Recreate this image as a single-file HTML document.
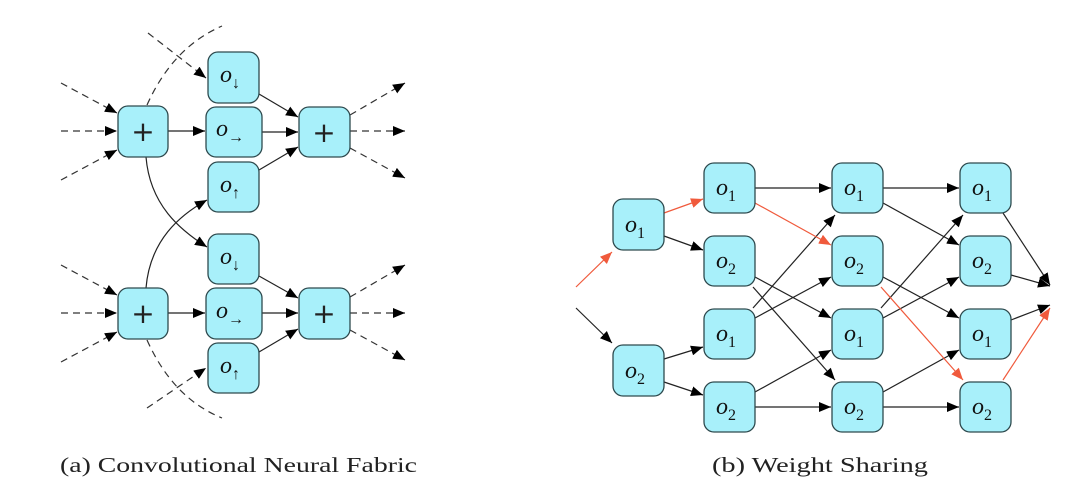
<!DOCTYPE html>
<html><head><meta charset="utf-8"><style>
html,body{margin:0;padding:0;background:#fff;width:1080px;height:495px;overflow:hidden}
svg{display:block}
.b{fill:#a8f0fa;stroke:#2e4a4e;stroke-width:1.3}
.t{font-family:"Liberation Serif",serif;font-style:italic;font-size:24px;fill:#111}
.s{font-size:16px;font-style:normal}
.p{font-family:"DejaVu Sans",sans-serif;font-size:28px;fill:#222}
.e{stroke:#222;stroke-width:1.2;fill:none}
.d{stroke:#333;stroke-width:1.2;fill:none;stroke-dasharray:7,5}
.r{stroke:#f05a3c;stroke-width:1.2;fill:none}
.c{font-family:"Liberation Serif",serif;font-size:21px;fill:#222}
</style></head><body>
<svg width="1080" height="495" viewBox="0 0 1080 495" xmlns="http://www.w3.org/2000/svg">
<defs>
<marker id="a" viewBox="0 0 12 10" refX="12" refY="5" markerWidth="12" markerHeight="10" markerUnits="userSpaceOnUse" orient="auto"><path d="M0,0 L12,5 L0,10 Z" fill="#000"/></marker>
<marker id="ar" viewBox="0 0 12 10" refX="12" refY="5" markerWidth="12" markerHeight="10" markerUnits="userSpaceOnUse" orient="auto"><path d="M0,0 L12,5 L0,10 Z" fill="#f05a3c"/></marker>
</defs>

<!-- LEFT PANEL edges -->
<g marker-end="url(#a)">
<line class="d" x1="61" y1="83" x2="117" y2="113"/>
<line class="d" x1="61" y1="131" x2="117" y2="131"/>
<line class="d" x1="61" y1="180" x2="117" y2="150"/>
<line class="d" x1="350" y1="115" x2="405" y2="83"/>
<line class="d" x1="350" y1="131" x2="405" y2="131"/>
<line class="d" x1="350" y1="148" x2="405" y2="178"/>
<line class="d" x1="61" y1="265" x2="117" y2="295"/>
<line class="d" x1="61" y1="313" x2="117" y2="313"/>
<line class="d" x1="61" y1="362" x2="117" y2="332"/>
<line class="d" x1="350" y1="297" x2="405" y2="265"/>
<line class="d" x1="350" y1="313" x2="405" y2="313"/>
<line class="d" x1="350" y1="330" x2="405" y2="360"/>
<line class="d" x1="148" y1="33" x2="206" y2="78"/>
<line class="d" x1="147" y1="408" x2="206" y2="368"/>
<line class="e" x1="168" y1="131" x2="205" y2="131"/>
<line class="e" x1="262" y1="132" x2="298" y2="132"/>
<line class="e" x1="259" y1="94" x2="298" y2="117"/>
<line class="e" x1="259" y1="170" x2="298" y2="147"/>
<line class="e" x1="168" y1="313" x2="205" y2="313"/>
<line class="e" x1="262" y1="313" x2="298" y2="313"/>
<line class="e" x1="259" y1="276" x2="298" y2="298"/>
<line class="e" x1="259" y1="352" x2="298" y2="329"/>
<path class="e" d="M146,157 C150,205 180,230 207,247"/>
<path class="e" d="M146,288 C150,240 180,215 207,200"/>
</g>
<path class="d" d="M147,105 C165,65 190,40 222,26"/>
<path class="d" d="M147,340 C165,380 190,405 222,418"/>

<!-- LEFT boxes -->
<rect class="b" x="118" y="106" width="50" height="51" rx="10"/>
<text class="p" x="143" y="141" text-anchor="middle">+</text>
<rect class="b" x="299" y="107" width="51" height="50" rx="10"/>
<text class="p" x="324" y="142" text-anchor="middle">+</text>
<rect class="b" x="118" y="288" width="50" height="51" rx="10"/>
<text class="p" x="143" y="323" text-anchor="middle">+</text>
<rect class="b" x="299" y="288" width="51" height="51" rx="10"/>
<text class="p" x="324" y="323" text-anchor="middle">+</text>

<rect class="b" x="208" y="52" width="51" height="51" rx="10"/>
<text class="t" x="220" y="82">o<tspan class="s" dy="6">↓</tspan></text>
<rect class="b" x="206" y="107" width="56" height="50" rx="10"/>
<text class="t" x="216" y="136">o<tspan class="s" dy="6">→</tspan></text>
<rect class="b" x="208" y="162" width="51" height="50" rx="10"/>
<text class="t" x="220" y="192">o<tspan class="s" dy="6">↑</tspan></text>
<rect class="b" x="208" y="234" width="51" height="50" rx="10"/>
<text class="t" x="220" y="264">o<tspan class="s" dy="6">↓</tspan></text>
<rect class="b" x="206" y="288" width="56" height="51" rx="10"/>
<text class="t" x="216" y="318">o<tspan class="s" dy="6">→</tspan></text>
<rect class="b" x="208" y="343" width="51" height="50" rx="10"/>
<text class="t" x="220" y="373">o<tspan class="s" dy="6">↑</tspan></text>

<!-- RIGHT PANEL edges -->
<g marker-end="url(#a)">
<line class="e" x1="576" y1="308" x2="612" y2="343"/>
<line class="e" x1="664" y1="236" x2="703" y2="250"/>
<line class="e" x1="664" y1="359" x2="703" y2="347"/>
<line class="e" x1="664" y1="382" x2="703" y2="395"/>
<!-- col1 -> col2 -->
<line class="e" x1="755" y1="188" x2="831" y2="188"/>
<line class="e" x1="755" y1="277" x2="831" y2="318"/>
<line class="e" x1="753" y1="287" x2="835" y2="380"/>
<line class="e" x1="753" y1="308" x2="835" y2="215"/>
<line class="e" x1="755" y1="318" x2="831" y2="277"/>
<line class="e" x1="755" y1="392" x2="831" y2="350"/>
<line class="e" x1="755" y1="407" x2="831" y2="407"/>
<!-- col2 -> col3 -->
<line class="e" x1="883" y1="188" x2="959" y2="188"/>
<line class="e" x1="883" y1="203" x2="959" y2="245"/>
<line class="e" x1="883" y1="277" x2="959" y2="318"/>
<line class="e" x1="881" y1="308" x2="963" y2="215"/>
<line class="e" x1="883" y1="318" x2="959" y2="277"/>
<line class="e" x1="883" y1="392" x2="959" y2="350"/>
<line class="e" x1="883" y1="407" x2="959" y2="407"/>
<!-- out -->
<line class="e" x1="1003" y1="213" x2="1050" y2="285"/>
<line class="e" x1="1011" y1="275" x2="1050" y2="286"/>
<line class="e" x1="1011" y1="320" x2="1050" y2="305"/>
</g>
<g marker-end="url(#ar)">
<line class="r" x1="576" y1="287" x2="612" y2="252"/>
<line class="r" x1="664" y1="213" x2="703" y2="199"/>
<line class="r" x1="755" y1="203" x2="831" y2="245"/>
<line class="r" x1="881" y1="287" x2="963" y2="380"/>
<line class="r" x1="1003" y1="380" x2="1050" y2="308"/>
</g>

<!-- RIGHT boxes -->
<g>
<rect class="b" x="613" y="199" width="51" height="51" rx="10"/>
<text class="t" x="625" y="232">o<tspan class="s" dy="6">1</tspan></text>
<rect class="b" x="613" y="345" width="51" height="51" rx="10"/>
<text class="t" x="625" y="378">o<tspan class="s" dy="6">2</tspan></text>

<rect class="b" x="704" y="163" width="51" height="50" rx="10"/>
<text class="t" x="716" y="195">o<tspan class="s" dy="6">1</tspan></text>
<rect class="b" x="704" y="236" width="51" height="50" rx="10"/>
<text class="t" x="716" y="268">o<tspan class="s" dy="6">2</tspan></text>
<rect class="b" x="704" y="309" width="51" height="50" rx="10"/>
<text class="t" x="716" y="341">o<tspan class="s" dy="6">1</tspan></text>
<rect class="b" x="704" y="382" width="51" height="50" rx="10"/>
<text class="t" x="716" y="414">o<tspan class="s" dy="6">2</tspan></text>

<rect class="b" x="832" y="163" width="51" height="50" rx="10"/>
<text class="t" x="844" y="195">o<tspan class="s" dy="6">1</tspan></text>
<rect class="b" x="832" y="236" width="51" height="50" rx="10"/>
<text class="t" x="844" y="268">o<tspan class="s" dy="6">2</tspan></text>
<rect class="b" x="832" y="309" width="51" height="50" rx="10"/>
<text class="t" x="844" y="341">o<tspan class="s" dy="6">1</tspan></text>
<rect class="b" x="832" y="382" width="51" height="50" rx="10"/>
<text class="t" x="844" y="414">o<tspan class="s" dy="6">2</tspan></text>

<rect class="b" x="960" y="163" width="51" height="50" rx="10"/>
<text class="t" x="972" y="195">o<tspan class="s" dy="6">1</tspan></text>
<rect class="b" x="960" y="236" width="51" height="50" rx="10"/>
<text class="t" x="972" y="268">o<tspan class="s" dy="6">2</tspan></text>
<rect class="b" x="960" y="309" width="51" height="50" rx="10"/>
<text class="t" x="972" y="341">o<tspan class="s" dy="6">1</tspan></text>
<rect class="b" x="960" y="382" width="51" height="50" rx="10"/>
<text class="t" x="972" y="414">o<tspan class="s" dy="6">2</tspan></text>
</g>

<!-- captions -->
<text class="c" x="60" y="472" textLength="357" lengthAdjust="spacingAndGlyphs">(a) Convolutional Neural Fabric</text>
<text class="c" x="712" y="472" textLength="216" lengthAdjust="spacingAndGlyphs">(b) Weight Sharing</text>
</svg>
</body></html>
